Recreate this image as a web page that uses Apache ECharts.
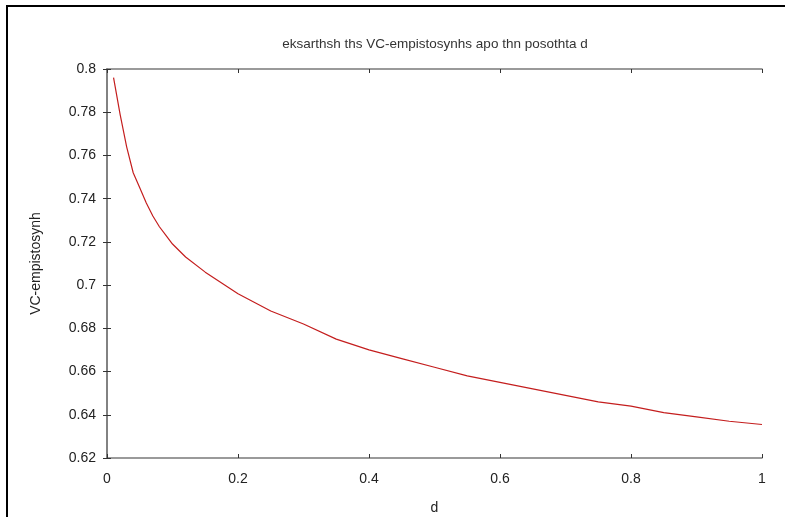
<!DOCTYPE html>
<html>
<head>
<meta charset="utf-8">
<script src="https://cdn.jsdelivr.net/npm/echarts@6/dist/echarts.min.js"></script>
<style>html,body{margin:0;padding:0;background:#fff}#c{width:785px;height:517px}</style>
</head>
<body>
<div id="c"></div>
<script>
var titleText = 'eksarthsh ths VC-empistosynhs apo thn posothta d';
var xName = 'd';
var yName = 'VC-empistosynh';
var dValues = [0.01,0.02,0.03,0.04,0.05,0.06,0.07,0.08,0.09,0.10,0.12,0.15,0.20,0.25,0.30,0.35,0.40,0.45,0.50,0.55,0.60,0.65,0.70,0.75,0.80,0.85,0.90,0.95,1.00];
var vcValues = [0.796,0.779,0.764,0.752,0.745,0.738,0.732,0.727,0.723,0.719,0.713,0.706,0.696,0.688,0.682,0.675,0.670,0.666,0.662,0.658,0.655,0.652,0.649,0.646,0.644,0.641,0.639,0.637,0.6355];
var xTicks = [0,0.2,0.4,0.6,0.8,1];
var yTicks = [0.62,0.64,0.66,0.68,0.7,0.72,0.74,0.76,0.78,0.8];

var seriesData = dValues.map(function(d,i){return [d, vcValues[i]];});
var font = 'Liberation Sans, Arial, sans-serif';
var axisColor = '#7a7a7a';
var chart = echarts.init(document.getElementById('c'), null, {renderer:'canvas'});
function fmt(v){ return String(Math.round(v*100)/100); }
chart.setOption({
  animation:false,
  backgroundColor:'#fff',
  title:{text:titleText,left:430,top:32,textAlign:'center',
    textStyle:{fontFamily:font,fontSize:13.5,fontWeight:'normal',color:'#333'}},
  grid:{left:107,top:69,right:23,bottom:59,containLabel:false,outerBoundsMode:'none'},
  xAxis:[{type:'value',min:0,max:1,interval:0.2,position:'bottom',
    name:xName,nameLocation:'middle',nameGap:43,
    nameTextStyle:{fontFamily:font,fontSize:14,color:'#222'},
    axisLine:{show:true,lineStyle:{color:axisColor,width:1.5}},
    axisTick:{show:true,inside:true,length:4,lineStyle:{color:'#333'}},
    axisLabel:{margin:14,fontFamily:font,fontSize:14,color:'#222',formatter:fmt},
    splitLine:{show:false}},
   {type:'value',min:0,max:1,interval:0.2,position:'top',
    axisLine:{show:true,lineStyle:{color:axisColor,width:1.5}},
    axisTick:{show:true,inside:true,length:4,lineStyle:{color:'#333'}},
    axisLabel:{show:false},splitLine:{show:false}}],
  yAxis:[{type:'value',min:0.62,max:0.8,interval:0.02,position:'left',
    name:yName,nameLocation:'middle',nameGap:64,
    nameTextStyle:{fontFamily:font,fontSize:14,color:'#222'},
    axisLine:{show:true,lineStyle:{color:axisColor,width:1.5}},
    axisTick:{show:true,inside:true,length:4,lineStyle:{color:'#333'}},
    axisLabel:{margin:11,fontFamily:font,fontSize:14,color:'#222',formatter:fmt},
    splitLine:{show:false}},
   {type:'value',min:0.62,max:0.8,interval:0.02,position:'right',
    axisLine:{show:true,lineStyle:{color:axisColor,width:1.5}},
    axisTick:{show:true,inside:true,length:4,lineStyle:{color:'#333'}},
    axisLabel:{show:false},splitLine:{show:false}}],
  graphic:[{type:'rect',shape:{x:7,y:6,width:820,height:600},
    style:{fill:null,stroke:'#000',lineWidth:2},silent:true}],
  series:[{type:'line',data:seriesData,xAxisIndex:0,yAxisIndex:0,
    showSymbol:false,smooth:false,lineStyle:{color:'#c41e1e',width:1.2}}]
});
</script>
</body>
</html>
